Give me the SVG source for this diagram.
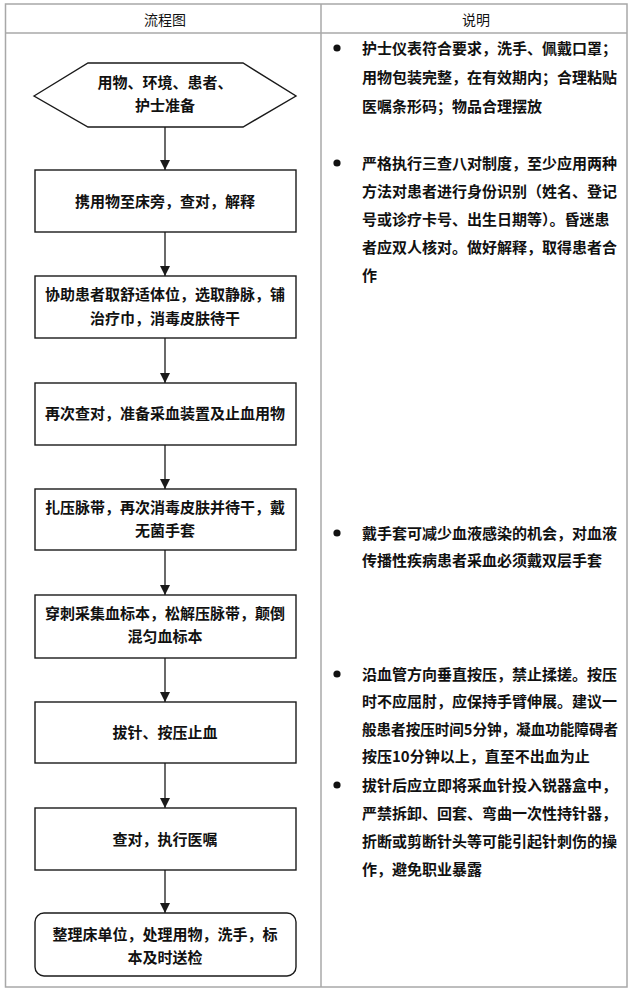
<svg xmlns="http://www.w3.org/2000/svg" width="635" height="994" viewBox="0 0 635 994">
<style>
  .grid { fill: none; stroke: #a8a8a8; stroke-width: 1.5; }
  .node { fill: #ffffff; stroke: #1a1a1a; stroke-width: 1.4; }
  .t { font-family: "Noto Sans CJK SC", "Liberation Sans", sans-serif; font-size: 15px; fill: #111; font-weight: bold; }
  .c { text-anchor: middle; }
  .h { font-size: 14px; font-weight: normal; }
  .edge { stroke: #1a1a1a; stroke-width: 1.3; fill: none; marker-end: url(#ah); }
  .dot { fill: #111; }
</style>
<defs>
  <marker id="ah" viewBox="0 0 10 10" refX="10" refY="5" markerWidth="10" markerHeight="10" markerUnits="userSpaceOnUse" orient="auto">
    <path d="M0,0 L10,5 L0,10 Z" fill="#1a1a1a"/>
  </marker>
</defs>
<rect width="635" height="994" fill="#ffffff"/>
<g id="table">
  <rect class="grid" x="5.5" y="4" width="621.5" height="983"/>
  <line class="grid" x1="5.5" y1="33" x2="627" y2="33"/>
  <line class="grid" x1="321" y1="4" x2="321" y2="987"/>
  <text class="t c h" x="165" y="25">流程图</text>
  <text class="t c h" x="476" y="25">说明</text>
</g>
<g id="connectors">
  <line class="edge" x1="165" y1="127" x2="165" y2="170"/>
  <line class="edge" x1="165" y1="232" x2="165" y2="276"/>
  <line class="edge" x1="165" y1="338" x2="165" y2="383"/>
  <line class="edge" x1="165" y1="445" x2="165" y2="489"/>
  <line class="edge" x1="165" y1="550" x2="165" y2="595"/>
  <line class="edge" x1="165" y1="658" x2="165" y2="702"/>
  <line class="edge" x1="165" y1="763" x2="165" y2="808"/>
  <line class="edge" x1="165" y1="870" x2="165" y2="913"/>
</g>
<g id="n0">
  <polygon class="node" points="34,96 88,63 243,63 296,96 243,127 88,127"/>
  <text class="t c" x="165" y="88">用物、环境、患者、</text>
  <text class="t c" x="165" y="111">护士准备</text>
</g>
<g id="n1">
  <rect class="node" x="35" y="170" width="261" height="62"/>
  <text class="t c" x="165" y="207">携用物至床旁，查对，解释</text>
</g>
<g id="n2">
  <rect class="node" x="35" y="276" width="261" height="62"/>
  <text class="t c" x="165" y="300">协助患者取舒适体位，选取静脉，铺</text>
  <text class="t c" x="165" y="324">治疗巾，消毒皮肤待干</text>
</g>
<g id="n3">
  <rect class="node" x="35" y="383" width="261" height="62"/>
  <text class="t c" x="165" y="419">再次查对，准备采血装置及止血用物</text>
</g>
<g id="n4">
  <rect class="node" x="35" y="489" width="261" height="61"/>
  <text class="t c" x="165" y="513">扎压脉带，再次消毒皮肤并待干，戴</text>
  <text class="t c" x="165" y="536">无菌手套</text>
</g>
<g id="n5">
  <rect class="node" x="35" y="595" width="261" height="63"/>
  <text class="t c" x="165" y="619">穿刺采集血标本，松解压脉带，颠倒</text>
  <text class="t c" x="165" y="642">混匀血标本</text>
</g>
<g id="n6">
  <rect class="node" x="35" y="702" width="261" height="61"/>
  <text class="t c" x="165" y="738">拔针、按压止血</text>
</g>
<g id="n7">
  <rect class="node" x="35" y="808" width="261" height="62"/>
  <text class="t c" x="165" y="845">查对，执行医嘱</text>
</g>
<g id="n8">
  <rect class="node" x="35" y="913" width="261" height="63" rx="9" ry="9"/>
  <text class="t c" x="165" y="940">整理床单位，处理用物，洗手，标</text>
  <text class="t c" x="165" y="963">本及时送检</text>
</g>
<g id="notes">
  <circle class="dot" cx="337" cy="48" r="3.6"/>
  <text class="t" x="362" y="53.5">护士仪表符合要求，洗手、佩戴口罩；</text>
  <text class="t" x="362" y="82.5">用物包装完整，在有效期内；合理粘贴</text>
  <text class="t" x="362" y="111.5">医嘱条形码；物品合理摆放</text>

  <circle class="dot" cx="337" cy="163" r="3.6"/>
  <text class="t" x="362" y="168.5">严格执行三查八对制度，至少应用两种</text>
  <text class="t" x="362" y="196.5">方法对患者进行身份识别（姓名、登记</text>
  <text class="t" x="362" y="224.5">号或诊疗卡号、出生日期等）。昏迷患</text>
  <text class="t" x="362" y="252.5">者应双人核对。做好解释，取得患者合</text>
  <text class="t" x="362" y="280.5">作</text>

  <circle class="dot" cx="337" cy="533" r="3.6"/>
  <text class="t" x="362" y="538.5">戴手套可减少血液感染的机会，对血液</text>
  <text class="t" x="362" y="565.5">传播性疾病患者采血必须戴双层手套</text>

  <circle class="dot" cx="337" cy="674" r="3.6"/>
  <text class="t" x="362" y="679.5">沿血管方向垂直按压，禁止揉搓。按压</text>
  <text class="t" x="362" y="707">时不应屈肘，应保持手臂伸展。建议一</text>
  <text class="t" x="362" y="734.5" textLength="256" lengthAdjust="spacingAndGlyphs">般患者按压时间5分钟，凝血功能障碍者</text>
  <text class="t" x="362" y="762">按压10分钟以上，直至不出血为止</text>

  <circle class="dot" cx="337" cy="785" r="3.6"/>
  <text class="t" x="362" y="790.5">拔针后应立即将采血针投入锐器盒中，</text>
  <text class="t" x="362" y="818.5">严禁拆卸、回套、弯曲一次性持针器，</text>
  <text class="t" x="362" y="846.5">折断或剪断针头等可能引起针刺伤的操</text>
  <text class="t" x="362" y="874.5">作，避免职业暴露</text>
</g>
</svg>
